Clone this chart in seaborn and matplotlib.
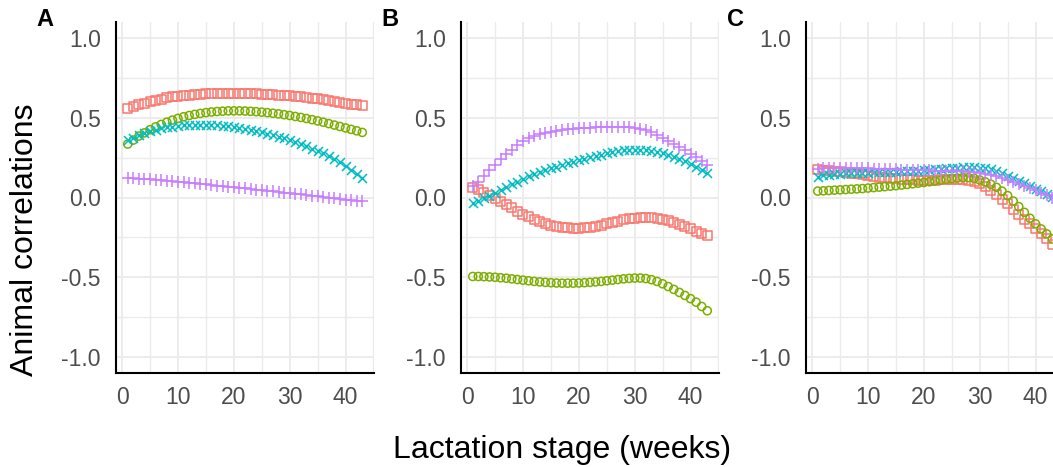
import warnings
import numpy as np
import pandas as pd
import matplotlib
matplotlib.use("Agg")
import matplotlib.pyplot as plt
from matplotlib.ticker import MultipleLocator
import seaborn as sns

warnings.filterwarnings("ignore")

# Lactation weeks shared by every curve
weeks = list(range(1, 44))

# Panel A correlations by week
a_red = [0.555, 0.568, 0.580, 0.590, 0.600, 0.610, 0.617, 0.624, 0.630, 0.635,
         0.639, 0.642, 0.645, 0.647, 0.649, 0.650, 0.651, 0.652, 0.652, 0.652,
         0.652, 0.651, 0.650, 0.649, 0.648, 0.646, 0.644, 0.642, 0.640, 0.637,
         0.634, 0.631, 0.627, 0.623, 0.619, 0.614, 0.609, 0.604, 0.598, 0.592,
         0.586, 0.580, 0.574]
a_green = [0.335, 0.360, 0.385, 0.405, 0.425, 0.443, 0.458, 0.472, 0.485, 0.496,
           0.506, 0.514, 0.521, 0.527, 0.532, 0.536, 0.539, 0.541, 0.543, 0.543,
           0.543, 0.542, 0.540, 0.538, 0.535, 0.532, 0.528, 0.524, 0.519, 0.514,
           0.508, 0.502, 0.495, 0.488, 0.480, 0.472, 0.463, 0.454, 0.445, 0.436,
           0.427, 0.418, 0.408]
a_teal = [0.360, 0.375, 0.390, 0.403, 0.415, 0.425, 0.433, 0.440, 0.445, 0.449,
          0.452, 0.454, 0.455, 0.455, 0.455, 0.454, 0.452, 0.449, 0.446, 0.442,
          0.437, 0.431, 0.425, 0.418, 0.410, 0.401, 0.392, 0.382, 0.371, 0.360,
          0.348, 0.335, 0.321, 0.307, 0.292, 0.276, 0.259, 0.242, 0.220, 0.195,
          0.170, 0.145, 0.120]
a_purple = [0.125, 0.122, 0.119, 0.116, 0.113, 0.110, 0.107, 0.104, 0.101, 0.098,
            0.095, 0.092, 0.088, 0.085, 0.082, 0.078, 0.075, 0.072, 0.068, 0.065,
            0.061, 0.058, 0.054, 0.050, 0.047, 0.043, 0.039, 0.035, 0.031, 0.027,
            0.023, 0.019, 0.015, 0.011, 0.007, 0.003, -0.001, -0.005, -0.009, -0.013,
            -0.017, -0.020, -0.023]

# Panel B correlations by week
b_red = [0.065, 0.050, 0.033, 0.014, -0.005, -0.025, -0.045, -0.065, -0.085, -0.104,
         -0.121, -0.137, -0.151, -0.163, -0.173, -0.181, -0.187, -0.191, -0.193, -0.193,
         -0.191, -0.187, -0.181, -0.174, -0.166, -0.157, -0.149, -0.141, -0.134, -0.129,
         -0.126, -0.125, -0.126, -0.130, -0.137, -0.146, -0.157, -0.169, -0.182, -0.196,
         -0.210, -0.225, -0.240]
b_green = [-0.495, -0.495, -0.496, -0.498, -0.500, -0.503, -0.506, -0.510, -0.514, -0.518,
           -0.522, -0.526, -0.529, -0.532, -0.534, -0.536, -0.537, -0.537, -0.537, -0.536,
           -0.534, -0.532, -0.529, -0.526, -0.522, -0.518, -0.514, -0.510, -0.507, -0.505,
           -0.505, -0.508, -0.515, -0.526, -0.541, -0.558, -0.576, -0.595, -0.614, -0.634,
           -0.656, -0.683, -0.710]
b_teal = [-0.035, -0.020, -0.005, 0.010, 0.027, 0.045, 0.063, 0.082, 0.100, 0.117,
          0.132, 0.146, 0.159, 0.171, 0.182, 0.193, 0.204, 0.214, 0.224, 0.234,
          0.243, 0.252, 0.261, 0.269, 0.277, 0.284, 0.290, 0.295, 0.298, 0.300,
          0.300, 0.298, 0.294, 0.287, 0.278, 0.267, 0.255, 0.241, 0.226, 0.210,
          0.193, 0.175, 0.155]
b_purple = [0.075, 0.100, 0.135, 0.170, 0.205, 0.240, 0.270, 0.300, 0.330, 0.355,
            0.372, 0.386, 0.397, 0.405, 0.412, 0.418, 0.423, 0.427, 0.431, 0.434,
            0.436, 0.438, 0.440, 0.441, 0.442, 0.443, 0.443, 0.442, 0.440, 0.436,
            0.430, 0.420, 0.408, 0.393, 0.376, 0.357, 0.337, 0.316, 0.295, 0.274,
            0.252, 0.230, 0.205]

# Panel C correlations by week
c_red = [0.175, 0.172, 0.169, 0.166, 0.162, 0.158, 0.153, 0.148, 0.143, 0.138,
         0.133, 0.128, 0.124, 0.120, 0.117, 0.114, 0.112, 0.110, 0.109, 0.108,
         0.108, 0.109, 0.110, 0.111, 0.112, 0.112, 0.111, 0.107, 0.100, 0.090,
         0.070, 0.045, 0.020, -0.010, -0.040, -0.075, -0.105, -0.135, -0.165, -0.195,
         -0.225, -0.260, -0.295]
c_green = [0.040, 0.042, 0.044, 0.046, 0.048, 0.050, 0.052, 0.054, 0.056, 0.059,
           0.062, 0.065, 0.068, 0.071, 0.074, 0.078, 0.082, 0.086, 0.090, 0.094,
           0.099, 0.104, 0.109, 0.114, 0.118, 0.122, 0.125, 0.125, 0.120, 0.110,
           0.098, 0.083, 0.064, 0.040, 0.012, -0.022, -0.057, -0.093, -0.130, -0.165,
           -0.197, -0.228, -0.260]
c_teal = [0.130, 0.138, 0.144, 0.148, 0.150, 0.152, 0.153, 0.154, 0.155, 0.156,
          0.157, 0.158, 0.159, 0.160, 0.161, 0.163, 0.165, 0.167, 0.169, 0.171,
          0.174, 0.177, 0.180, 0.183, 0.186, 0.188, 0.190, 0.191, 0.190, 0.188,
          0.183, 0.176, 0.167, 0.152, 0.135, 0.120, 0.105, 0.090, 0.073, 0.056,
          0.040, 0.022, 0.005]
c_purple = [0.180, 0.183, 0.185, 0.186, 0.187, 0.187, 0.186, 0.185, 0.184, 0.183,
            0.181, 0.180, 0.178, 0.177, 0.176, 0.175, 0.174, 0.173, 0.172, 0.171,
            0.170, 0.169, 0.168, 0.167, 0.166, 0.165, 0.164, 0.162, 0.159, 0.155,
            0.149, 0.142, 0.133, 0.123, 0.112, 0.100, 0.087, 0.073, 0.059, 0.045,
            0.030, 0.015, 0.000]

panel_labels = ["A", "B", "C"]
groups = ["g1", "g2", "g3", "g4"]
y_ticks = [-1.0, -0.5, 0.0, 0.5, 1.0]
x_ticks = [0, 10, 20, 30, 40]

panel_series = {
    "A": [a_red, a_green, a_teal, a_purple],
    "B": [b_red, b_green, b_teal, b_purple],
    "C": [c_red, c_green, c_teal, c_purple],
}

rows = []
for p in panel_labels:
    for g, vals in zip(groups, panel_series[p]):
        for w, v in zip(weeks, vals):
            rows.append({"panel": p, "group": g, "week": w, "r": v})
df = pd.DataFrame(rows)

# ggplot-like hue palette and open shapes
colors = {"g1": "#F8766D", "g2": "#7CAE00", "g3": "#00BFC4", "g4": "#C77CFF"}
shapes = {"g1": "s", "g2": "o", "g3": "x", "g4": "+"}
sizes = {"g1": 42, "g2": 34, "g3": 42, "g4": 64}

sns.set_theme(style="white")
plt.rcParams["font.family"] = ["Liberation Sans", "DejaVu Sans"]

W, H = 1053, 467
fig = plt.figure(figsize=(W / 100, H / 100), dpi=100)

grid_col = "#EBEBEB"
tick_col = "#4D4D4D"
lefts = [116, 461, 806]
top_px, bottom_px = 22, 373
width_px = 258

for p, left in zip(panel_labels, lefts):
    ax = fig.add_axes([left / W, (H - bottom_px) / H, width_px / W,
                       (bottom_px - top_px) / H])
    sub = df[df["panel"] == p]
    for g in groups:
        d = sub[sub["group"] == g]
        c = colors[g]
        if shapes[g] in ("s", "o"):
            sns.scatterplot(data=d, x="week", y="r", ax=ax, marker=shapes[g],
                            s=sizes[g], facecolor="none", edgecolor=c,
                            linewidth=1.1, legend=False, zorder=3)
        else:
            sns.scatterplot(data=d, x="week", y="r", ax=ax, marker=shapes[g],
                            s=sizes[g], color=c, linewidth=1.1,
                            legend=False, zorder=3)
    ax.set_xlim(-1.1, 45.1)
    ax.set_ylim(-1.1, 1.1)
    ax.set_xticks(x_ticks)
    ax.set_yticks(y_ticks)
    ax.set_xticklabels([str(t) for t in x_ticks])
    ax.set_yticklabels([f"{t:.1f}" for t in y_ticks])
    ax.xaxis.set_minor_locator(MultipleLocator(5))
    ax.yaxis.set_minor_locator(MultipleLocator(0.25))
    ax.grid(True, which="major", color=grid_col, linewidth=1.3, zorder=0)
    ax.grid(True, which="minor", color=grid_col, linewidth=1.0, zorder=0)
    ax.set_axisbelow(True)
    ax.tick_params(which="both", length=0, labelsize=16.5, labelcolor=tick_col)
    ax.tick_params(axis="y", pad=11)
    ax.tick_params(axis="x", pad=9)
    for s in ("top", "right"):
        ax.spines[s].set_visible(False)
    for s in ("left", "bottom"):
        ax.spines[s].set_color("black")
        ax.spines[s].set_linewidth(1.5)
    ax.set_xlabel("")
    ax.set_ylabel("")
    ax.set_facecolor("white")
    fig.text((left - 71) / W, (H - 20) / H, p, fontsize=17, fontweight="bold",
             ha="center", va="center", color="black")

fig.text(25 / W, (H - 240) / H, "Animal correlations", rotation=90,
         fontsize=23, ha="center", va="center", color="black")
fig.text(562 / W, (H - 450) / H, "Lactation stage (weeks)",
         fontsize=23, ha="center", va="center", color="black")

fig.savefig("out.png", dpi=100, facecolor="white")
